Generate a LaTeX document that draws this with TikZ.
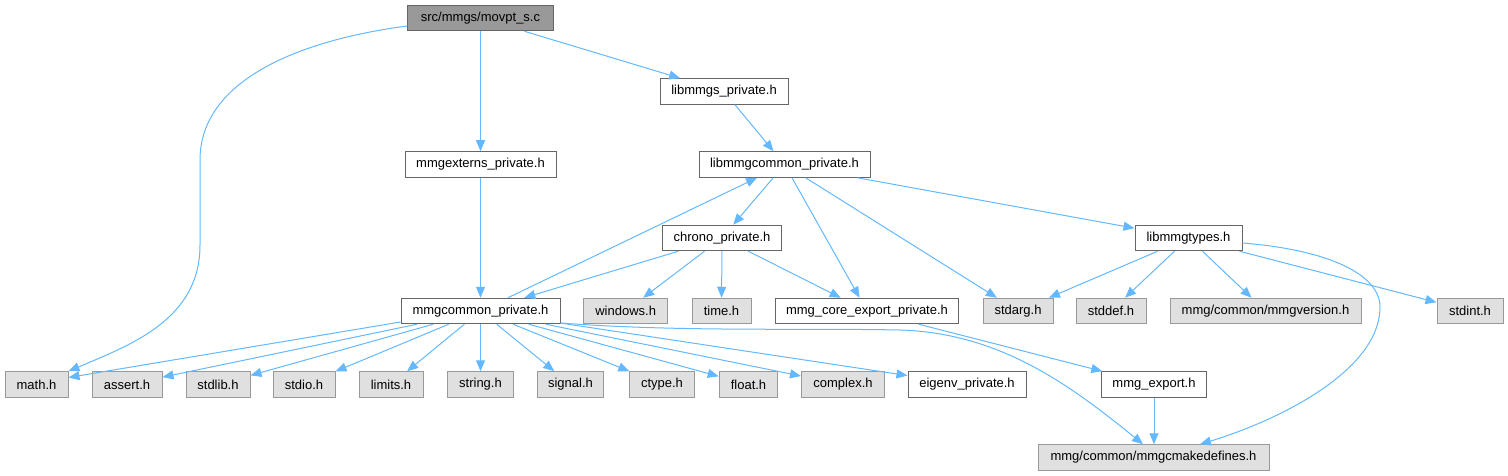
\documentclass[tikz,border=0pt]{standalone}
\usepackage{fontspec}
\setmainfont{Liberation Sans}
\usetikzlibrary{arrows.meta}
\definecolor{edgec}{HTML}{63B8FF}
\definecolor{dgray}{HTML}{666666}
\definecolor{mgray}{HTML}{999999}
\definecolor{lgray}{HTML}{E0E0E0}
\tikzset{
  box/.style={draw=dgray, fill=white, line width=1pt, minimum height=25.5pt, inner sep=0pt,
              font=\fontsize{13}{15}\selectfont, text=black},
  sysbox/.style={box, draw=mgray, fill=lgray},
  rootbox/.style={box, draw=dgray, fill=mgray},
  edge/.style={draw=edgec, line width=1pt, -{Triangle[length=11pt,width=9pt]}},
}
\begin{document}
\begin{tikzpicture}[x=1pt, y=-1pt]
\useasboundingbox (0,0) rectangle (1508,476);
% row 0
\node[rootbox, minimum width=145.6pt] (movpt) at (480.5,18) {src/mmgs/movpt\_s.c};
% row 1
\node[box, minimum width=128pt] (libmmgs) at (724,91.5) {libmmgs\_private.h};
% row 2
\node[box, minimum width=151pt] (mmgexterns) at (480.5,164.5) {mmgexterns\_private.h};
\node[box, minimum width=171pt] (libmmgcommon) at (784.5,164.5) {libmmgcommon\_private.h};
% row 3
\node[box, minimum width=119pt] (chrono) at (722,238) {chrono\_private.h};
\node[box, minimum width=107pt] (libmmgtypes) at (1188.5,238) {libmmgtypes.h};
% row 4
\node[box, minimum width=159pt] (mmgcommon) at (480.5,311) {mmgcommon\_private.h};
\node[sysbox, minimum width=84pt] (windows) at (625.7,311) {windows.h};
\node[sysbox, minimum width=59pt] (time) at (721.5,311) {time.h};
\node[box, minimum width=183pt] (mmgcore) at (867,311) {mmg\_core\_export\_private.h};
\node[sysbox, minimum width=70pt] (stdarg) at (1018,311) {stdarg.h};
\node[sysbox, minimum width=70pt] (stddef) at (1111,311) {stddef.h};
\node[sysbox, minimum width=191pt] (mmgversion) at (1265.5,311) {mmg/common/mmgversion.h};
\node[sysbox, minimum width=66pt] (stdint) at (1470,311) {stdint.h};
% row 5
\node[sysbox, minimum width=63pt] (math) at (36.5,384.5) {math.h};
\node[sysbox, minimum width=70pt] (assert) at (127,384.5) {assert.h};
\node[sysbox, minimum width=64pt] (stdlib) at (218,384.5) {stdlib.h};
\node[sysbox, minimum width=62pt] (stdio) at (304,384.5) {stdio.h};
\node[sysbox, minimum width=64pt] (limits) at (391,384.5) {limits.h};
\node[sysbox, minimum width=65.6pt] (string) at (480.5,384.5) {string.h};
\node[sysbox, minimum width=65.6pt] (signal) at (570.5,384.5) {signal.h};
\node[sysbox, minimum width=65.7pt] (ctype) at (662,384.5) {ctype.h};
\node[sysbox, minimum width=58.7pt] (float) at (748.5,384.5) {float.h};
\node[sysbox, minimum width=83pt] (complex) at (843,384.5) {complex.h};
\node[box, minimum width=118pt] (eigenv) at (967,384.5) {eigenv\_private.h};
\node[box, minimum width=105.7pt] (mmgexport) at (1154,384.5) {mmg\_export.h};
% row 6
\node[sysbox, minimum width=231pt] (mmgcmake) at (1153.5,457.5) {mmg/common/mmgcmakedefines.h};

% edges
\draw[edge] (movpt) -- (mmgexterns);
\draw[edge] (movpt) -- (libmmgs);
\draw[edge] ([yshift=-8pt]movpt.west) .. controls (300,40) and (200,80) .. (200,160)
  -- (200,245) .. controls (200,320) and (130,345) .. (math.north east);
\draw[edge] (libmmgs) -- (libmmgcommon);
\draw[edge] (mmgexterns) -- (mmgcommon);
\draw[edge] (libmmgcommon) -- (chrono);
\draw[edge] (libmmgcommon) -- (mmgcore);
\draw[edge] (libmmgcommon) -- (stdarg);
\draw[edge] (libmmgcommon) -- (libmmgtypes);
\draw[edge] (mmgcommon) -- (libmmgcommon);
\draw[edge] (chrono) -- (mmgcommon);
\draw[edge] (chrono) -- (windows);
\draw[edge] (chrono) -- (time);
\draw[edge] (chrono) -- (mmgcore);
\draw[edge] (libmmgtypes) -- (stdarg);
\draw[edge] (libmmgtypes) -- (stddef);
\draw[edge] (libmmgtypes) -- (mmgversion);
\draw[edge] (libmmgtypes) -- (stdint);
\draw[edge] ([yshift=-5pt]libmmgtypes.east) .. controls (1330,250) and (1380,275) .. (1380,307)
  .. controls (1380,370) and (1280,420) .. ([xshift=46.5pt]mmgcmake.north);
\draw[edge] (mmgcore) -- (mmgexport);
\draw[edge] (mmgexport.south) -- (mmgexport.south |- mmgcmake.north);
\draw[edge] ([yshift=-12pt]mmgcommon.east) .. controls (680,332) and (800,328) .. (900,330)
  .. controls (1000,333) and (1070,385) .. ([xshift=-10.5pt]mmgcmake.north);
\draw[edge] ([yshift=-11pt]mmgcommon.west) -- ([yshift=7pt]math.east);
\draw[edge] (mmgcommon) -- (assert);
\draw[edge] (mmgcommon) -- (stdlib);
\draw[edge] (mmgcommon) -- (stdio);
\draw[edge] (mmgcommon) -- (limits);
\draw[edge] (mmgcommon) -- (string);
\draw[edge] (mmgcommon) -- (signal);
\draw[edge] (mmgcommon) -- (ctype);
\draw[edge] (mmgcommon) -- (float);
\draw[edge] (mmgcommon) -- (complex);
\draw[edge] (mmgcommon) -- (eigenv);
\end{tikzpicture}
\end{document}
